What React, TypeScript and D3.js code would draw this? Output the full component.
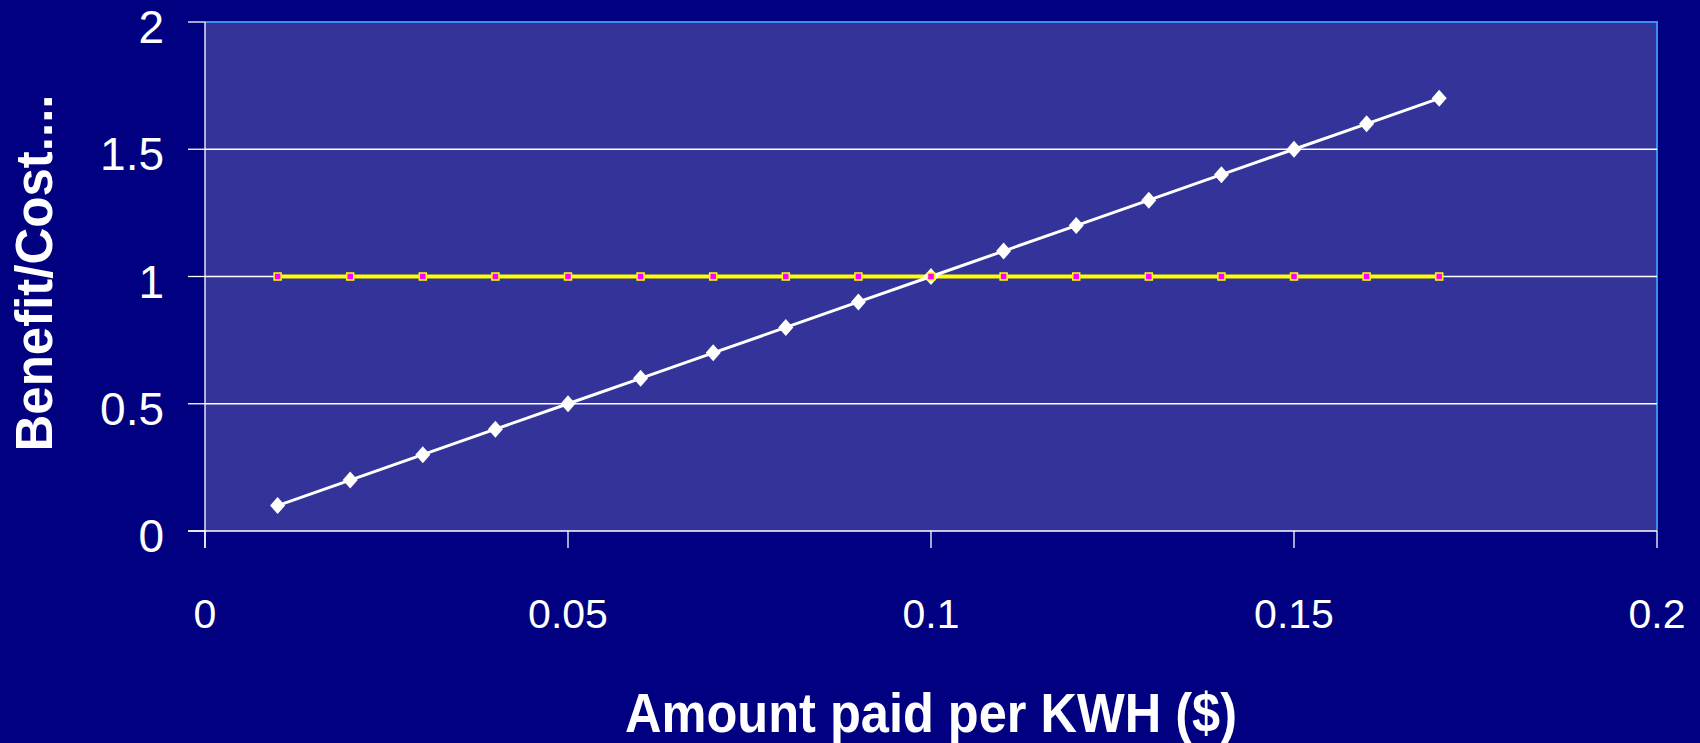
import React, { useEffect } from "react";
import * as d3 from "d3";

const WIDTH = 1700;
const HEIGHT = 743;

// plot area in pixels
const LEFT = 205;
const RIGHT = 1657;
const TOP = 22;
const BOTTOM = 531;

const prices = [0.01, 0.02, 0.03, 0.04, 0.05, 0.06, 0.07, 0.08, 0.09, 0.1, 0.11, 0.12, 0.13, 0.14, 0.15, 0.16, 0.17];
const benefitCost = [0.1, 0.2, 0.3, 0.4, 0.5, 0.6, 0.7, 0.8, 0.9, 1.0, 1.1, 1.2, 1.3, 1.4, 1.5, 1.6, 1.7];
const breakEven = [1, 1, 1, 1, 1, 1, 1, 1, 1, 1, 1, 1, 1, 1, 1, 1, 1];

const xTicks = [0, 0.05, 0.1, 0.15, 0.2];
const yTicks = [0, 0.5, 1, 1.5, 2];
const xTickLabels = ["0", "0.05", "0.1", "0.15", "0.2"];
const yTickLabels = ["0", "0.5", "1", "1.5", "2"];

const FONT = "'Liberation Sans', Arial, sans-serif";

export default function App() {
  useEffect(() => {
    document.body.style.margin = "0";
    document.body.style.background = "#000080";
  }, []);

  const x = d3.scaleLinear().domain([0, 0.2]).range([LEFT, RIGHT]);
  const y = d3.scaleLinear().domain([0, 2]).range([BOTTOM, TOP]);

  const line = d3.line<[number, number]>()
    .x(d => x(d[0]))
    .y(d => y(d[1]));

  const bcPts = prices.map((p, i) => [p, benefitCost[i]] as [number, number]);
  const bePts = prices.map((p, i) => [p, breakEven[i]] as [number, number]);

  // diamond marker, a bit taller than wide
  const diamond = "M0,-8.5L7.5,0L0,8.5L-7.5,0Z";

  return (
    <svg width={WIDTH} height={HEIGHT} style={{ display: "block" }} fontFamily={FONT}>
      <rect width={WIDTH} height={HEIGHT} fill="#000080" />
      <rect x={LEFT} y={TOP} width={RIGHT - LEFT} height={BOTTOM - TOP} fill="#333399" />

      {/* top / right frame */}
      <path d={`M${LEFT},${TOP}H${RIGHT}V${BOTTOM}`} fill="none" stroke="#3a8fe8" strokeWidth={2} />

      {/* gridlines */}
      {yTicks.filter(t => t > 0 && t < 2).map(t => (
        <line key={t} x1={LEFT} x2={RIGHT} y1={y(t)} y2={y(t)} stroke="#ffffff" strokeWidth={1.3} />
      ))}

      {/* axes */}
      <line x1={LEFT} x2={LEFT} y1={TOP} y2={BOTTOM + 17} stroke="#ffffff" strokeWidth={1.3} />
      <line x1={LEFT - 17} x2={RIGHT} y1={BOTTOM} y2={BOTTOM} stroke="#ffffff" strokeWidth={1.3} />
      {yTicks.map(t => (
        <line key={"yt" + t} x1={LEFT - 17} x2={LEFT} y1={y(t)} y2={y(t)} stroke="#ffffff" strokeWidth={1.3} />
      ))}
      {xTicks.map(t => (
        <line key={"xt" + t} x1={x(t)} x2={x(t)} y1={BOTTOM} y2={BOTTOM + 17} stroke="#ffffff" strokeWidth={1.3} />
      ))}

      {yTicks.map((t, i) => (
        <text key={"yl" + t} x={164} y={y(t) + 21} textAnchor="end" fill="#ffffff" fontSize={46}>
          {yTickLabels[i]}
        </text>
      ))}
      {xTicks.map((t, i) => (
        <text key={"xl" + t} x={x(t)} y={628} textAnchor="middle" fill="#ffffff" fontSize={41}>
          {xTickLabels[i]}
        </text>
      ))}

      {/* series */}
      <path d={line(bePts) || ""} fill="none" stroke="#ffff00" strokeWidth={4} />
      <path d={line(bcPts) || ""} fill="none" stroke="#ffffff" strokeWidth={3} />
      {bcPts.map((d, i) => (
        <path key={"d" + i} d={diamond} transform={`translate(${x(d[0])},${y(d[1])})`} fill="#ffffff" />
      ))}
      {bePts.map((d, i) => (
        <rect key={"s" + i} x={x(d[0]) - 3.5} y={y(d[1]) - 3.5} width={7} height={7}
          fill="#ff00ff" stroke="#ffff00" strokeWidth={1.5} />
      ))}

      {/* titles */}
      <text x={625} y={732} fill="#ffffff" fontSize={55} fontWeight="bold"
        textLength={612} lengthAdjust="spacingAndGlyphs">
        Amount paid per KWH ($)
      </text>
      <text transform={`translate(52,273) rotate(-90)`} textAnchor="middle" fill="#ffffff" fontSize={51} fontWeight="bold">
        Benefit/Cost....
      </text>
    </svg>
  );
}
